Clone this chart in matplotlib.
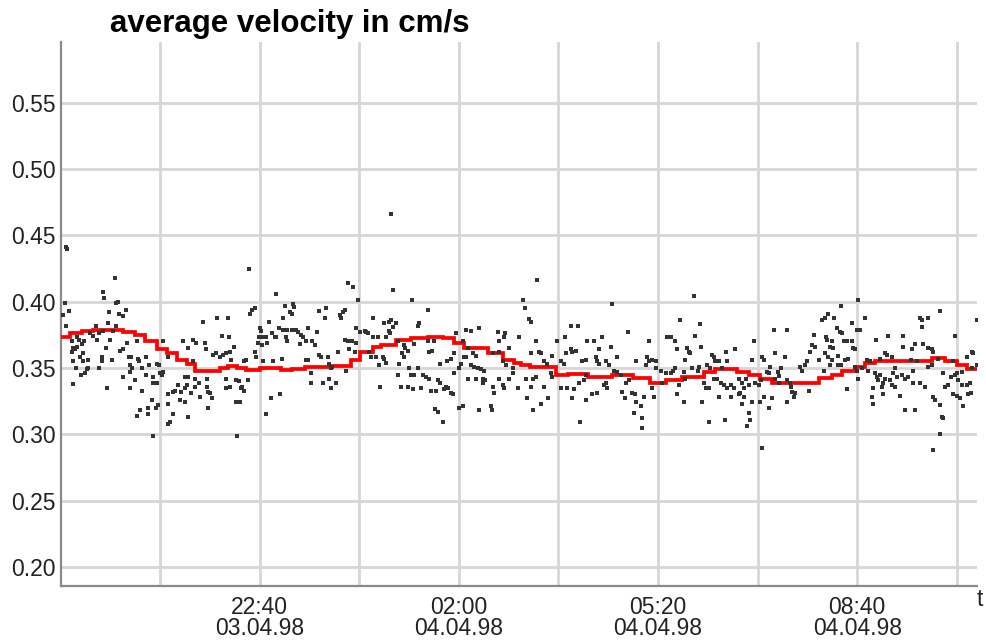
import matplotlib
matplotlib.use("Agg")
import matplotlib.pyplot as plt

plt.rcParams['font.family'] = ['Liberation Sans', 'DejaVu Sans']

# time axis: minutes after 21:00 on 03.04.98
tick_minutes = [0, 100, 200, 300, 400, 500, 600, 700, 800]
tick_labels = ['', '22:40\n03.04.98', '', '02:00\n04.04.98', '',
               '05:20\n04.04.98', '', '08:40\n04.04.98', '']
y_ticks = [0.20, 0.25, 0.30, 0.35, 0.40, 0.45, 0.50, 0.55]

# running mean (red step line)
mean_minutes = [-99, -90, -78, -67, -37, -25, -15, -3, 7, 17, 27, 35, 60, 68, 77, 86,
                100, 121, 133, 146, 171, 192, 201, 214, 222, 237, 252, 269, 284, 295,
                305, 329, 344, 355, 362, 371, 398, 410, 430, 454, 475, 492, 508, 524,
                546, 557, 579, 591, 602, 614, 662, 675, 685, 698, 708, 718, 775, 788,
                800, 810, 820]
mean_velocity = [0.373, 0.376, 0.378, 0.379, 0.377, 0.375, 0.370, 0.364, 0.361, 0.356,
                 0.353, 0.348, 0.350, 0.3515, 0.350, 0.3485, 0.350, 0.3485, 0.349, 0.351,
                 0.3515, 0.356, 0.362, 0.366, 0.367, 0.371, 0.3725, 0.373, 0.3725, 0.369,
                 0.365, 0.361, 0.356, 0.354, 0.352, 0.351, 0.345, 0.3455, 0.343, 0.345,
                 0.3425, 0.339, 0.341, 0.343, 0.347, 0.349, 0.347, 0.345, 0.3417, 0.339,
                 0.3425, 0.345, 0.348, 0.351, 0.354, 0.355, 0.3575, 0.355, 0.352, 0.3495,
                 0.3495]

# individual measurements (dots)
sample_minutes = [
    -94, -93, -45, -57, -56, -95, -91, -97, -44, -42, -51, -34, -41, -37, -52, -64, -44, 43,
    -94, -47, -57, -61, -70, -67, -83, -81, -88, -87, -83, -78, -76, -63, -50, -33, -23, -37,
    -40, -54, -88, -85, -77, -80, -58, -31, -29, -22, -14, 3, 23, 28, 33, 36, 45, 46, 53,
    -87, -77, -72, -58, -48, -30, -28, -21, -18, -11, -3, -1, 8, 33, -84, -73, -72, -61, -30,
    -14, -7, 0, 2, 3, -79, -75, -37, -25, -7, -3, 25, 28, 35, 39, 47, -87, -53, -30, -18, 18,
    25, 27, 35, 47, 48, 13, 15, 21, 8, 31, 40, 50, 52, 20, 25, -8, -2, -4, 8, -12, -20, -23,
    -12, 13, 28, 10, 8, 48, -7,
    89, 116, 189, 194, 199, 57, 68, 90, 92, 95, 126, 134, 135, 131, 133, 123, 109, 160, 167,
    166, 181, 184, 186, 182, 62, 69, 74, 70, 56, 60, 63, 66, 100, 101, 99, 103, 106, 98, 102,
    107, 112, 115, 116, 119, 123, 128, 133, 137, 127, 128, 139, 142, 144, 141, 147, 153, 156,
    149, 158, 95, 96, 86, 84, 71, 103, 113, 122, 147, 149, 160, 162, 169, 179, 190, 196, 186,
    189, 193, 197, 197, 201, 206, 170, 172, 173, 187, 152, 152, 164, 170, 172, 177, 66, 76,
    79, 88, 66, 70, 82, 84, 81, 76, 80, 111, 120, 106, 77,
    232, 234, 253, 269, 214, 225, 230, 232, 237, 234, 230, 231, 260, 259, 207, 209, 214, 219,
    227, 239, 245, 246, 249, 243, 245, 255, 269, 270, 273, 275, 210, 212, 217, 224, 225, 220,
    227, 240, 250, 259, 239, 252, 255, 264, 267, 270, 281, 288, 292, 295, 297, 307, 312, 320,
    304, 309, 305, 307, 302, 300, 295, 314, 317, 312, 315, 319, 322, 325, 317, 309, 324, 324,
    326, 339, 340, 345, 346, 350, 360, 334, 340, 344, 347, 354, 354, 340, 344, 345, 334, 335,
    350, 359, 221, 242, 249, 254, 262, 272, 279, 281, 287, 289, 285, 292, 294, 277, 276, 279,
    284, 300, 304, 320, 332, 333,
    379, 364, 366, 454, 370, 372, 378, 372, 381, 383, 413, 420, 470, 399, 407, 429, 436, 444,
    453, 413, 418, 414, 408, 394, 386, 389, 403, 406, 424, 428, 438, 439, 441, 448, 451, 459,
    441, 478, 489, 491, 494, 498, 491, 509, 513, 498, 503, 508, 488, 367, 375, 378, 393, 394,
    373, 386, 368, 375, 383, 390, 403, 409, 416, 421, 426, 428, 414, 428, 434, 439, 446, 449,
    448, 456, 459, 463, 468, 471, 474, 477, 478, 464, 467, 483, 484, 484, 476, 486, 494, 496,
    422, 504, 513, 515,
    536, 522, 542, 517, 519, 537, 529, 532, 531, 543, 527, 554, 556, 557, 568, 569, 577, 596,
    594, 604, 606, 616, 630, 617, 628, 517, 526, 534, 541, 540, 549, 552, 561, 564, 546, 548,
    551, 556, 559, 563, 566, 569, 573, 576, 581, 584, 588, 586, 582, 591, 597, 601, 603, 611,
    612, 609, 620, 622, 624, 617, 621, 630, 633, 634, 635, 637, 638, 643, 645, 648, 650, 653,
    655, 658, 657, 662, 665, 668, 669, 667, 652, 521, 519, 526, 527, 544, 561, 573, 581, 584,
    586, 594, 602, 606, 614, 611, 630, 591, 592, 589, 551, 567, 604,
    701, 684, 671, 677, 708, 695, 700, 703, 783, 763, 765, 771, 765, 820, 680, 683, 685, 731,
    719, 746, 798, 670, 675, 673, 676, 687, 690, 695, 696, 698, 746, 755, 758, 766, 771, 775,
    776, 728, 730, 735, 815, 816, 810, 668, 671, 675, 681, 688, 691, 710, 713, 723, 754, 760,
    775, 771, 781, 796, 673, 681, 684, 698, 700, 705, 701, 711, 718, 720, 723, 721, 728, 726,
    736, 740, 738, 745, 748, 751, 756, 756, 763, 768, 733, 735, 716, 725, 738, 743, 715, 716,
    726, 748, 758, 786, 788, 791, 794, 798, 800, 801, 805, 776, 778, 783, 785, 786, 783, 776,
    796, 800, 803, 806, 811, 814, 805, 810, 813, 820, 815, 690,
]
sample_velocity = [
    0.441, 0.440, 0.418, 0.407, 0.403, 0.399, 0.393, 0.390, 0.399, 0.400, 0.392, 0.394, 0.391,
    0.389, 0.384, 0.382, 0.382, 0.385, 0.382, 0.378, 0.378, 0.376, 0.376, 0.374, 0.373, 0.371,
    0.370, 0.365, 0.366, 0.368, 0.370, 0.371, 0.371, 0.369, 0.370, 0.364, 0.363, 0.365, 0.362,
    0.364, 0.361, 0.358, 0.358, 0.358, 0.358, 0.357, 0.358, 0.370, 0.370, 0.365, 0.371, 0.369,
    0.369, 0.364, 0.360, 0.355, 0.355, 0.356, 0.355, 0.356, 0.352, 0.350, 0.355, 0.350, 0.352,
    0.353, 0.352, 0.358, 0.355, 0.350, 0.349, 0.350, 0.350, 0.347, 0.345, 0.343, 0.346, 0.345,
    0.347, 0.345, 0.346, 0.343, 0.341, 0.339, 0.339, 0.343, 0.343, 0.342, 0.339, 0.342, 0.338,
    0.335, 0.335, 0.333, 0.337, 0.335, 0.337, 0.336, 0.336, 0.332, 0.332, 0.333, 0.332, 0.330,
    0.331, 0.328, 0.331, 0.327, 0.326, 0.324, 0.326, 0.322, 0.320, 0.323, 0.320, 0.318, 0.314,
    0.315, 0.315, 0.313, 0.309, 0.308, 0.320, 0.299,
    0.425, 0.406, 0.414, 0.411, 0.401, 0.388, 0.388, 0.391, 0.394, 0.395, 0.397, 0.398, 0.396,
    0.392, 0.391, 0.388, 0.385, 0.393, 0.395, 0.388, 0.390, 0.392, 0.394, 0.388, 0.374, 0.373,
    0.366, 0.362, 0.361, 0.358, 0.360, 0.361, 0.380, 0.378, 0.373, 0.373, 0.373, 0.369, 0.367,
    0.369, 0.376, 0.373, 0.373, 0.380, 0.379, 0.379, 0.379, 0.379, 0.373, 0.370, 0.377, 0.375,
    0.373, 0.368, 0.370, 0.370, 0.367, 0.380, 0.377, 0.362, 0.358, 0.356, 0.355, 0.356, 0.355,
    0.355, 0.357, 0.356, 0.356, 0.360, 0.358, 0.358, 0.362, 0.364, 0.362, 0.371, 0.370, 0.370,
    0.369, 0.380, 0.377, 0.378, 0.353, 0.350, 0.351, 0.348, 0.346, 0.339, 0.339, 0.342, 0.335,
    0.339, 0.342, 0.341, 0.340, 0.341, 0.335, 0.336, 0.336, 0.333, 0.335, 0.324, 0.324, 0.327,
    0.330, 0.315, 0.299,
    0.466, 0.409, 0.401, 0.394, 0.388, 0.384, 0.385, 0.386, 0.384, 0.381, 0.378, 0.376, 0.384,
    0.382, 0.377, 0.376, 0.373, 0.373, 0.373, 0.370, 0.367, 0.365, 0.363, 0.361, 0.358, 0.368,
    0.370, 0.362, 0.363, 0.370, 0.362, 0.358, 0.358, 0.358, 0.357, 0.352, 0.354, 0.353, 0.350,
    0.350, 0.345, 0.345, 0.345, 0.345, 0.343, 0.342, 0.353, 0.355, 0.357, 0.361, 0.376, 0.379,
    0.378, 0.380, 0.370, 0.365, 0.358, 0.358, 0.353, 0.350, 0.346, 0.361, 0.359, 0.352, 0.351,
    0.350, 0.349, 0.348, 0.342, 0.342, 0.342, 0.339, 0.341, 0.377, 0.370, 0.373, 0.376, 0.365,
    0.373, 0.361, 0.362, 0.355, 0.352, 0.350, 0.346, 0.342, 0.337, 0.335, 0.336, 0.331, 0.342,
    0.335, 0.336, 0.336, 0.336, 0.334, 0.335, 0.333, 0.341, 0.339, 0.336, 0.335, 0.334, 0.331,
    0.330, 0.333, 0.319, 0.317, 0.309, 0.320, 0.321, 0.318, 0.321, 0.318,
    0.416, 0.401, 0.395, 0.398, 0.387, 0.385, 0.370, 0.361, 0.362, 0.361, 0.382, 0.382, 0.377,
    0.370, 0.373, 0.370, 0.370, 0.373, 0.366, 0.364, 0.363, 0.362, 0.361, 0.359, 0.355, 0.353,
    0.355, 0.353, 0.355, 0.356, 0.358, 0.355, 0.353, 0.355, 0.352, 0.358, 0.364, 0.355, 0.358,
    0.355, 0.356, 0.355, 0.370, 0.373, 0.373, 0.350, 0.348, 0.346, 0.352, 0.342, 0.342, 0.343,
    0.346, 0.343, 0.336, 0.336, 0.327, 0.318, 0.323, 0.327, 0.335, 0.335, 0.334, 0.339, 0.341,
    0.345, 0.327, 0.326, 0.330, 0.331, 0.337, 0.335, 0.339, 0.348, 0.347, 0.345, 0.339, 0.341,
    0.331, 0.330, 0.324, 0.332, 0.327, 0.321, 0.312, 0.305, 0.316, 0.328, 0.335, 0.328, 0.309,
    0.339, 0.346, 0.348,
    0.404, 0.386, 0.383, 0.370, 0.364, 0.374, 0.365, 0.361, 0.362, 0.366, 0.356, 0.360, 0.358,
    0.355, 0.362, 0.355, 0.364, 0.370, 0.356, 0.358, 0.356, 0.379, 0.379, 0.361, 0.358, 0.350,
    0.347, 0.350, 0.351, 0.348, 0.352, 0.350, 0.355, 0.350, 0.339, 0.335, 0.335, 0.342, 0.342,
    0.339, 0.337, 0.335, 0.337, 0.335, 0.342, 0.339, 0.342, 0.335, 0.331, 0.337, 0.339, 0.337,
    0.341, 0.346, 0.351, 0.347, 0.347, 0.344, 0.350, 0.342, 0.339, 0.341, 0.339, 0.336, 0.332,
    0.328, 0.331, 0.351, 0.348, 0.352, 0.355, 0.362, 0.367, 0.366, 0.375, 0.356, 0.386, 0.388,
    0.373, 0.348, 0.333, 0.337, 0.330, 0.324, 0.342, 0.324, 0.328, 0.328, 0.330, 0.323, 0.328,
    0.324, 0.324, 0.328, 0.327, 0.320, 0.324, 0.316, 0.311, 0.306, 0.309, 0.311, 0.290,
    0.401, 0.397, 0.391, 0.388, 0.388, 0.384, 0.379, 0.379, 0.393, 0.388, 0.386, 0.388, 0.381,
    0.386, 0.380, 0.377, 0.376, 0.374, 0.371, 0.374, 0.374, 0.371, 0.370, 0.366, 0.365, 0.370,
    0.370, 0.370, 0.365, 0.364, 0.366, 0.364, 0.368, 0.368, 0.365, 0.364, 0.362, 0.361, 0.360,
    0.358, 0.362, 0.361, 0.358, 0.361, 0.358, 0.356, 0.359, 0.356, 0.357, 0.356, 0.355, 0.357,
    0.356, 0.355, 0.352, 0.351, 0.357, 0.355, 0.352, 0.352, 0.352, 0.351, 0.348, 0.350, 0.342,
    0.348, 0.346, 0.343, 0.345, 0.341, 0.342, 0.339, 0.346, 0.343, 0.350, 0.345, 0.342, 0.343,
    0.348, 0.339, 0.339, 0.336, 0.341, 0.337, 0.335, 0.336, 0.336, 0.329, 0.328, 0.323, 0.330,
    0.318, 0.318, 0.346, 0.336, 0.337, 0.343, 0.345, 0.346, 0.341, 0.347, 0.328, 0.326, 0.322,
    0.313, 0.312, 0.300, 0.288, 0.330, 0.329, 0.327, 0.321, 0.330, 0.331, 0.337, 0.337, 0.339,
    0.352, 0.350, 0.334,
]

fig = plt.figure(figsize=(9.86, 6.43), dpi=100)
ax = fig.add_axes([61 / 986, 1 - 586 / 643, (977 - 61) / 986, (586 - 42) / 643])

ax.set_xlim(-99.4, 820.3)
ax.set_ylim(0.1856, 0.5958)

ax.set_xticks(tick_minutes)
ax.set_xticklabels(tick_labels, fontsize=16.5, color='#222222', linespacing=0.9)
ax.set_yticks(y_ticks)
ax.set_yticklabels([f"{v:.2f}" for v in y_ticks], fontsize=16.5, color='#222222')
ax.tick_params(axis='both', length=0)
ax.tick_params(axis='x', pad=7)
ax.tick_params(axis='y', pad=4)

ax.grid(True, color='#d6d6d6', linewidth=2.0, zorder=0)
ax.set_axisbelow(True)

for s in ['top', 'right']:
    ax.spines[s].set_visible(False)
for s in ['left', 'bottom']:
    ax.spines[s].set_color('#8a8a8a')
    ax.spines[s].set_linewidth(1.6)

ax.plot(mean_minutes, mean_velocity, drawstyle='steps-post', color='#ff0000',
        linewidth=2.7, zorder=3, solid_joinstyle='miter')
ax.plot(sample_minutes, sample_velocity, linestyle='none', marker='s', markersize=2.6,
        markeredgewidth=0, color='#333333', zorder=4)

fig.text(110 / 986, 1 - 32 / 643, 'average velocity in cm/s', fontsize=22.5,
         fontweight='bold', color='#000000', ha='left', va='baseline')
fig.text(977 / 986, 1 - 588 / 643, 't', fontsize=16.5, color='#222222',
         ha='left', va='top')

fig.savefig('out.png', dpi=100)
